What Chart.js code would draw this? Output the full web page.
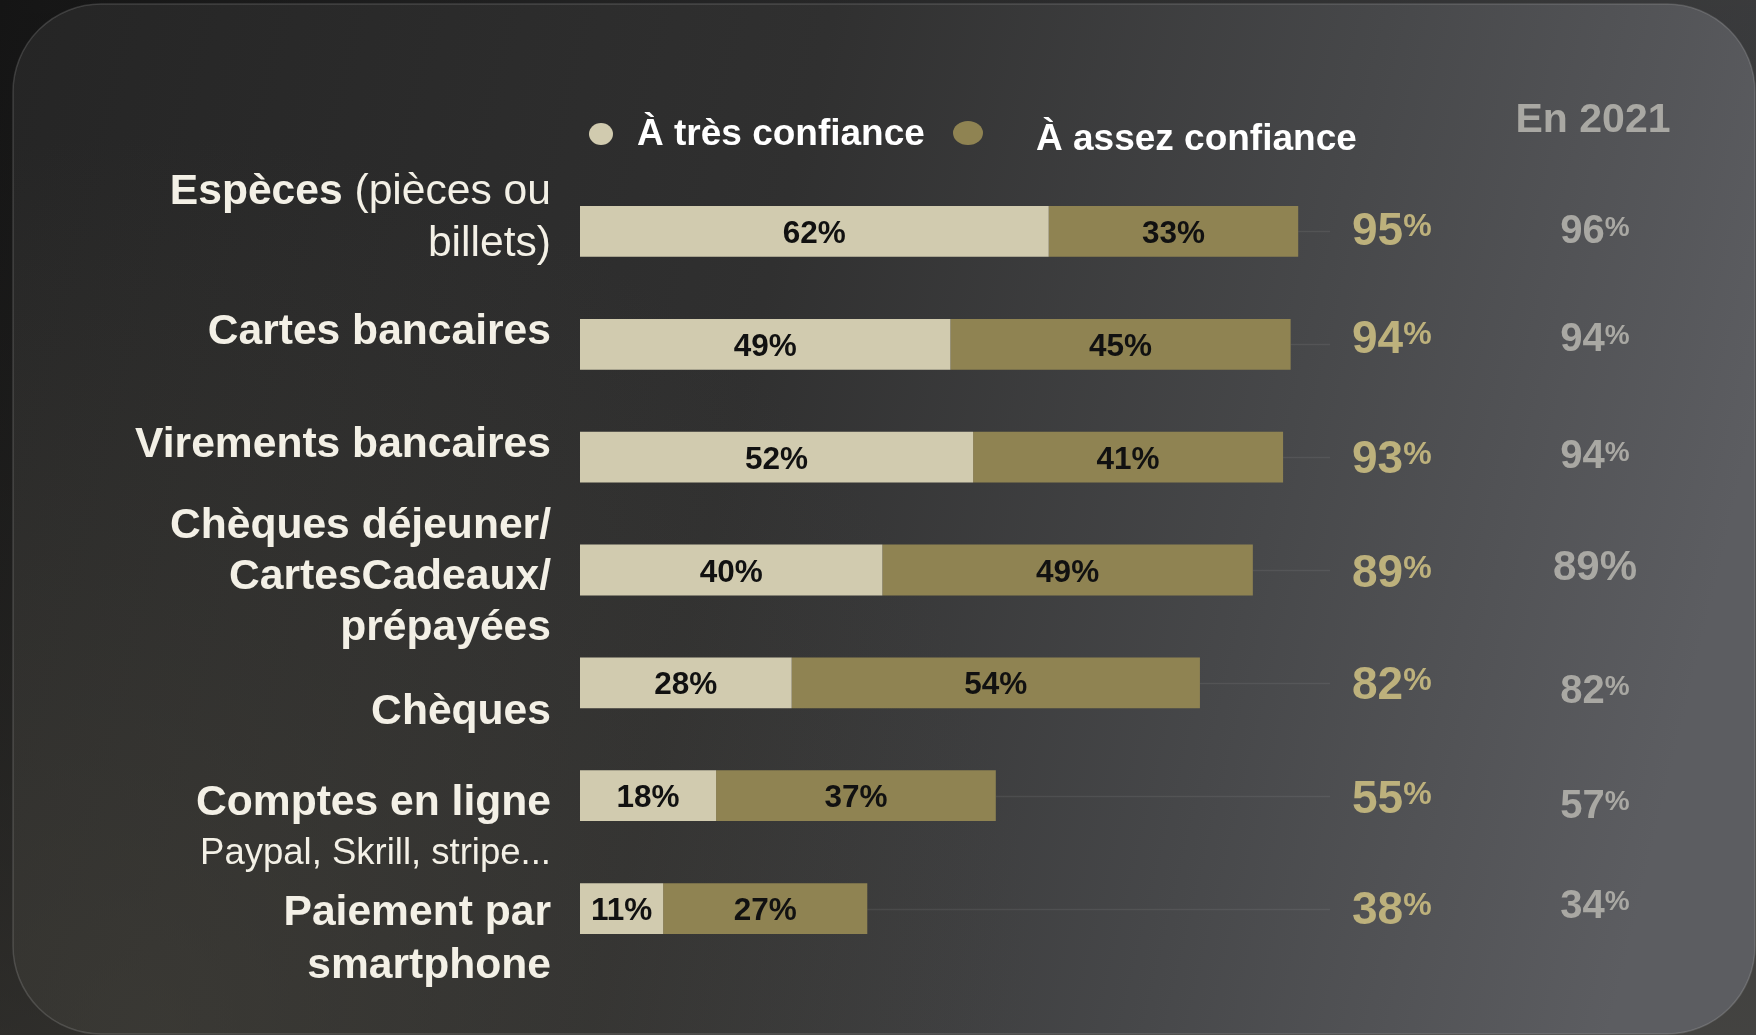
<!DOCTYPE html>
<html>
<head>
<meta charset="utf-8">
<script src="https://cdn.jsdelivr.net/npm/chart.js@4/dist/chart.umd.min.js"></script>
<style>
  html, body { margin: 0; padding: 0; background: #151515; }
  #wrap { width: 1756px; height: 1035px; }
</style>
</head>
<body>
<div id="wrap"><canvas id="c" width="1756" height="1035"></canvas></div>
<script>
// ---------- DATA ----------
const categories = [
  'Espèces (pièces ou billets)',
  'Cartes bancaires',
  'Virements bancaires',
  'Chèques déjeuner/ CartesCadeaux/ prépayées',
  'Chèques',
  'Comptes en ligne Paypal, Skrill, stripe...',
  'Paiement par smartphone'
];
const seriesNames = ['À très confiance', 'À assez confiance'];
const tresConfiance = [62, 49, 52, 40, 28, 18, 11];
const assezConfiance = [33, 45, 41, 49, 54, 37, 27];
const totals = [95, 94, 93, 89, 82, 55, 38];
const header2021 = 'En 2021';
const values2021 = [96, 94, 94, 89, 82, 57, 34];

// ---------- STYLE / LAYOUT ----------
const FONT = '"Liberation Sans", Arial, sans-serif';
const COL_LIGHT = '#d1cbaf';
const COL_OLIVE = '#8f8352';
const COL_GOLD = '#bdb17c';
const COL_GREY = '#a9a8a3';
const COL_LABEL = '#f3f0e6';
const LS = 42.6; // label font size

// category label lines: runs of [text, bold, size], baseline offset from bar centre
const labelLayout = [
  { lines: [[['Espèces', true, LS], [' (pièces ou', false, LS]], [['billets)', false, LS]]], dy: [-27, 25] },
  { lines: [[['Cartes bancaires', true, LS]]], dy: [0] },
  { lines: [[['Virements bancaires', true, LS]]], dy: [0] },
  { lines: [[['Chèques déjeuner/', true, LS]], [['CartesCadeaux/', true, LS]], [['prépayées', true, LS]]], dy: [-32, 19, 70] },
  { lines: [[['Chèques', true, LS]]], dy: [41] },
  { lines: [[['Comptes en ligne', true, LS]], [['Paypal, Skrill, stripe...', false, 36.5]]], dy: [19, 68] },
  { lines: [[['Paiement par', true, LS]], [['smartphone', true, LS]]], dy: [16, 69] }
];
const totalDy = [14, 9, 16, 17, 16, 17, 15];
const dy2021 = [12, 7, 11, 10, 20, 22, 9];
const super2021 = [true, true, true, false, true, true, true];

const bgPlugin = {
  id: 'bg',
  beforeDraw(chart) {
    const ctx = chart.ctx;
    const W = chart.width, H = chart.height;
    ctx.save();
    // outside
    let g = ctx.createLinearGradient(0, 0, W, H * 0.4);
    g.addColorStop(0, '#1a1a1a');
    g.addColorStop(1, '#4b4c4e');
    ctx.fillStyle = g;
    ctx.fillRect(0, 0, W, H);
    let g2 = ctx.createLinearGradient(0, 0, 0, H);
    g2.addColorStop(0, 'rgba(0,0,0,0.2)');
    g2.addColorStop(1, 'rgba(60,58,52,0.5)');
    ctx.fillStyle = g2;
    ctx.fillRect(0, 0, W, H);
    // panel
    const x0 = 13, y0 = 4, x1 = 1755, y1 = 1034, r = 88;
    ctx.beginPath();
    ctx.moveTo(x0 + r, y0);
    ctx.lineTo(x1 - r, y0);
    ctx.arcTo(x1, y0, x1, y0 + r, r);
    ctx.lineTo(x1, y1 - r);
    ctx.arcTo(x1, y1, x1 - r, y1, r);
    ctx.lineTo(x0 + r, y1);
    ctx.arcTo(x0, y1, x0, y1 - r, r);
    ctx.lineTo(x0, y0 + r);
    ctx.arcTo(x0, y0, x0 + r, y0, r);
    ctx.closePath();
    let pg = ctx.createLinearGradient(0, 0, W, 420);
    pg.addColorStop(0, '#252525');
    pg.addColorStop(0.45, '#303030');
    pg.addColorStop(0.75, '#47484a');
    pg.addColorStop(1, '#5c5d61');
    ctx.fillStyle = pg;
    ctx.fill();
    ctx.save();
    ctx.clip();
    let rg = ctx.createRadialGradient(150, H, 10, 150, H, 900);
    rg.addColorStop(0, 'rgba(70,68,60,0.55)');
    rg.addColorStop(1, 'rgba(70,68,60,0)');
    ctx.fillStyle = rg;
    ctx.fillRect(0, 0, W, H);
    ctx.restore();
    ctx.strokeStyle = 'rgba(255,255,255,0.14)';
    ctx.lineWidth = 1.5;
    ctx.stroke();
    ctx.restore();
  },
  beforeDatasetsDraw(chart) {
    // leader lines from bar end to the total column
    const ctx = chart.ctx;
    const meta = chart.getDatasetMeta(1);
    ctx.save();
    ctx.strokeStyle = 'rgba(255,255,255,0.07)';
    ctx.lineWidth = 1.5;
    meta.data.forEach((el) => {
      ctx.beginPath();
      ctx.moveTo(el.x, Math.round(el.y) + 0.5);
      ctx.lineTo(chart.chartArea.right - 6, Math.round(el.y) + 0.5);
      ctx.stroke();
    });
    ctx.restore();
  }
};

function drawPct(ctx, num, xLeft, baseline, bigSize, smallSize, color, superscript, align) {
  ctx.fillStyle = color;
  ctx.textBaseline = 'alphabetic';
  ctx.textAlign = 'left';
  const numStr = String(num);
  ctx.font = `bold ${bigSize}px ${FONT}`;
  const wNum = ctx.measureText(numStr).width;
  let pSize = superscript ? smallSize : bigSize;
  ctx.font = `bold ${pSize}px ${FONT}`;
  const wPct = ctx.measureText('%').width;
  let x = xLeft;
  if (align === 'center') x = xLeft - (wNum + wPct) / 2;
  ctx.font = `bold ${bigSize}px ${FONT}`;
  ctx.fillText(numStr, x, baseline);
  ctx.font = `bold ${pSize}px ${FONT}`;
  const pBase = superscript ? baseline - 0.716 * bigSize + 0.716 * pSize + 1 : baseline;
  ctx.fillText('%', x + wNum, pBase);
}

const textPlugin = {
  id: 'texts',
  afterDatasetsDraw(chart) {
    const ctx = chart.ctx;
    const ca = chart.chartArea;
    const yScale = chart.scales.y;
    ctx.save();

    // values inside bars
    [0, 1].forEach((di) => {
      const meta = chart.getDatasetMeta(di);
      const data = chart.data.datasets[di].data;
      meta.data.forEach((el, i) => {
        ctx.font = `bold 31.5px ${FONT}`;
        ctx.fillStyle = '#111111';
        ctx.textAlign = 'center';
        ctx.textBaseline = 'alphabetic';
        ctx.fillText(data[i] + '%', (el.x + el.base) / 2, el.y + 11.5);
      });
    });

    // category labels
    const xRight = ca.left - 29;
    categories.forEach((cat, i) => {
      const yc = yScale.getPixelForValue(i);
      const lay = labelLayout[i];
      lay.lines.forEach((runs, li) => {
        let widths = runs.map(([t, b, s]) => {
          ctx.font = `${b ? 'bold ' : ''}${s}px ${FONT}`;
          return ctx.measureText(t).width;
        });
        let total = widths.reduce((a, b) => a + b, 0);
        let x = xRight - total;
        runs.forEach(([t, b, s], ri) => {
          ctx.font = `${b ? 'bold ' : ''}${s}px ${FONT}`;
          ctx.fillStyle = COL_LABEL;
          ctx.textAlign = 'left';
          ctx.textBaseline = 'alphabetic';
          ctx.fillText(t, x, yc + lay.dy[li]);
          x += widths[ri];
        });
      });
    });

    // totals
    totals.forEach((v, i) => {
      const yc = yScale.getPixelForValue(i);
      drawPct(ctx, v, ca.right + 16, yc + totalDy[i], 46, 32, COL_GOLD, true, 'left');
    });

    // 2021 column
    ctx.font = `bold 41px ${FONT}`;
    ctx.fillStyle = COL_GREY;
    ctx.textAlign = 'center';
    ctx.textBaseline = 'alphabetic';
    ctx.fillText(header2021, ca.right + 257, 132);
    values2021.forEach((v, i) => {
      const yc = yScale.getPixelForValue(i);
      if (super2021[i]) {
        drawPct(ctx, v, ca.right + 259, yc + dy2021[i], 40, 28, COL_GREY, true, 'center');
      } else {
        drawPct(ctx, v, ca.right + 259, yc + dy2021[i], 42, 42, COL_GREY, false, 'center');
      }
    });

    // legend
    const ds = chart.data.datasets;
    ctx.fillStyle = ds[0].backgroundColor;
    ctx.beginPath();
    ctx.ellipse(601, 134, 12, 11, 0, 0, Math.PI * 2);
    ctx.fill();
    ctx.fillStyle = ds[1].backgroundColor;
    ctx.beginPath();
    ctx.ellipse(968, 133, 15, 12, 0, 0, Math.PI * 2);
    ctx.fill();
    ctx.font = `bold 37px ${FONT}`;
    ctx.fillStyle = '#ffffff';
    ctx.textAlign = 'left';
    ctx.textBaseline = 'alphabetic';
    ctx.fillText(ds[0].label, 637, 145);
    ctx.fillText(ds[1].label, 1036, 150);

    ctx.restore();
  }
};

new Chart(document.getElementById('c'), {
  type: 'bar',
  data: {
    labels: categories,
    datasets: [
      { label: seriesNames[0], data: tresConfiance, backgroundColor: COL_LIGHT, borderWidth: 0 },
      { label: seriesNames[1], data: assezConfiance, backgroundColor: COL_OLIVE, borderWidth: 0 }
    ]
  },
  options: {
    indexAxis: 'y',
    responsive: false,
    animation: false,
    devicePixelRatio: 1,
    layout: { padding: { left: 580, right: 420, top: 175, bottom: 70 } },
    datasets: { bar: { barPercentage: 0.45, categoryPercentage: 1 } },
    scales: {
      x: { stacked: true, min: 0, max: 100, display: false },
      y: { stacked: true, display: false }
    },
    plugins: {
      legend: { display: false },
      tooltip: { enabled: false },
      title: { display: false }
    }
  },
  plugins: [bgPlugin, textPlugin]
});
</script>
</body>
</html>
